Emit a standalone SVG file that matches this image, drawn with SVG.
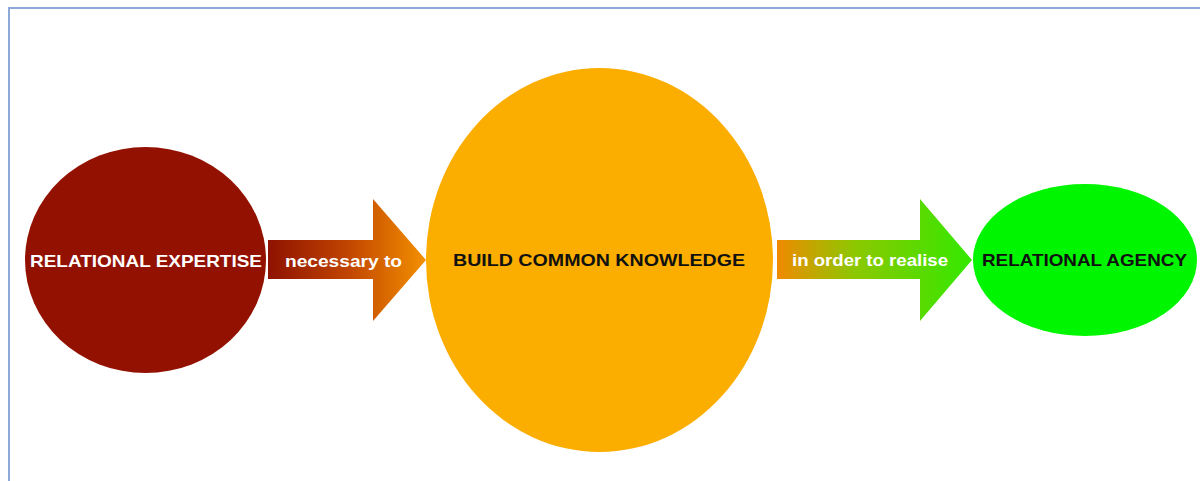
<svg xmlns="http://www.w3.org/2000/svg" width="1200" height="481" viewBox="0 0 1200 481">
<defs>
<linearGradient id="g1" x1="268" y1="0" x2="426" y2="0" gradientUnits="userSpaceOnUse">
<stop offset="0" stop-color="#8E1200"/>
<stop offset="0.5" stop-color="#C04400"/>
<stop offset="1" stop-color="#F39000"/>
</linearGradient>
<linearGradient id="g2" x1="777" y1="0" x2="972" y2="0" gradientUnits="userSpaceOnUse">
<stop offset="0" stop-color="#F08A00"/>
<stop offset="0.4" stop-color="#8CC800"/>
<stop offset="1" stop-color="#33E800"/>
</linearGradient>
<style>
.lbl{font-family:"Liberation Sans",Arial,Helvetica,sans-serif;font-weight:bold;font-size:17px}
.w{fill:#ffffff}
.k{fill:#111111}
</style>
</defs>
<rect x="0" y="0" width="1200" height="481" fill="#ffffff"/>
<rect x="9" y="8" width="1200" height="490" fill="none" stroke="#8DA9D8" stroke-width="2"/>
<g id="connectors">
<path d="M268,240 H373 V199 L426,260 L373,321 V279 H268 Z" fill="url(#g1)"/>
<text class="lbl w" x="285" y="266.5" textLength="117" lengthAdjust="spacingAndGlyphs">necessary to</text>
<path d="M777,240 H920 V199 L972,260 L920,321 V279 H777 Z" fill="url(#g2)"/>
<text class="lbl w" x="792" y="266" textLength="156" lengthAdjust="spacingAndGlyphs">in order to realise</text>
</g>
<g id="node-expertise">
<ellipse cx="145.5" cy="260" rx="120.5" ry="113" fill="#921100"/>
<text class="lbl w" x="30" y="266.5" textLength="232" lengthAdjust="spacingAndGlyphs">RELATIONAL EXPERTISE</text>
</g>
<g id="node-knowledge">
<ellipse cx="599.5" cy="260" rx="173.5" ry="192" fill="#FBAD00"/>
<text class="lbl k" x="453" y="266" textLength="292" lengthAdjust="spacingAndGlyphs">BUILD COMMON KNOWLEDGE</text>
</g>
<g id="node-agency">
<ellipse cx="1085" cy="260" rx="112" ry="76" fill="#00F500"/>
<text class="lbl k" x="982" y="266" textLength="205" lengthAdjust="spacingAndGlyphs">RELATIONAL AGENCY</text>
</g>
</svg>
